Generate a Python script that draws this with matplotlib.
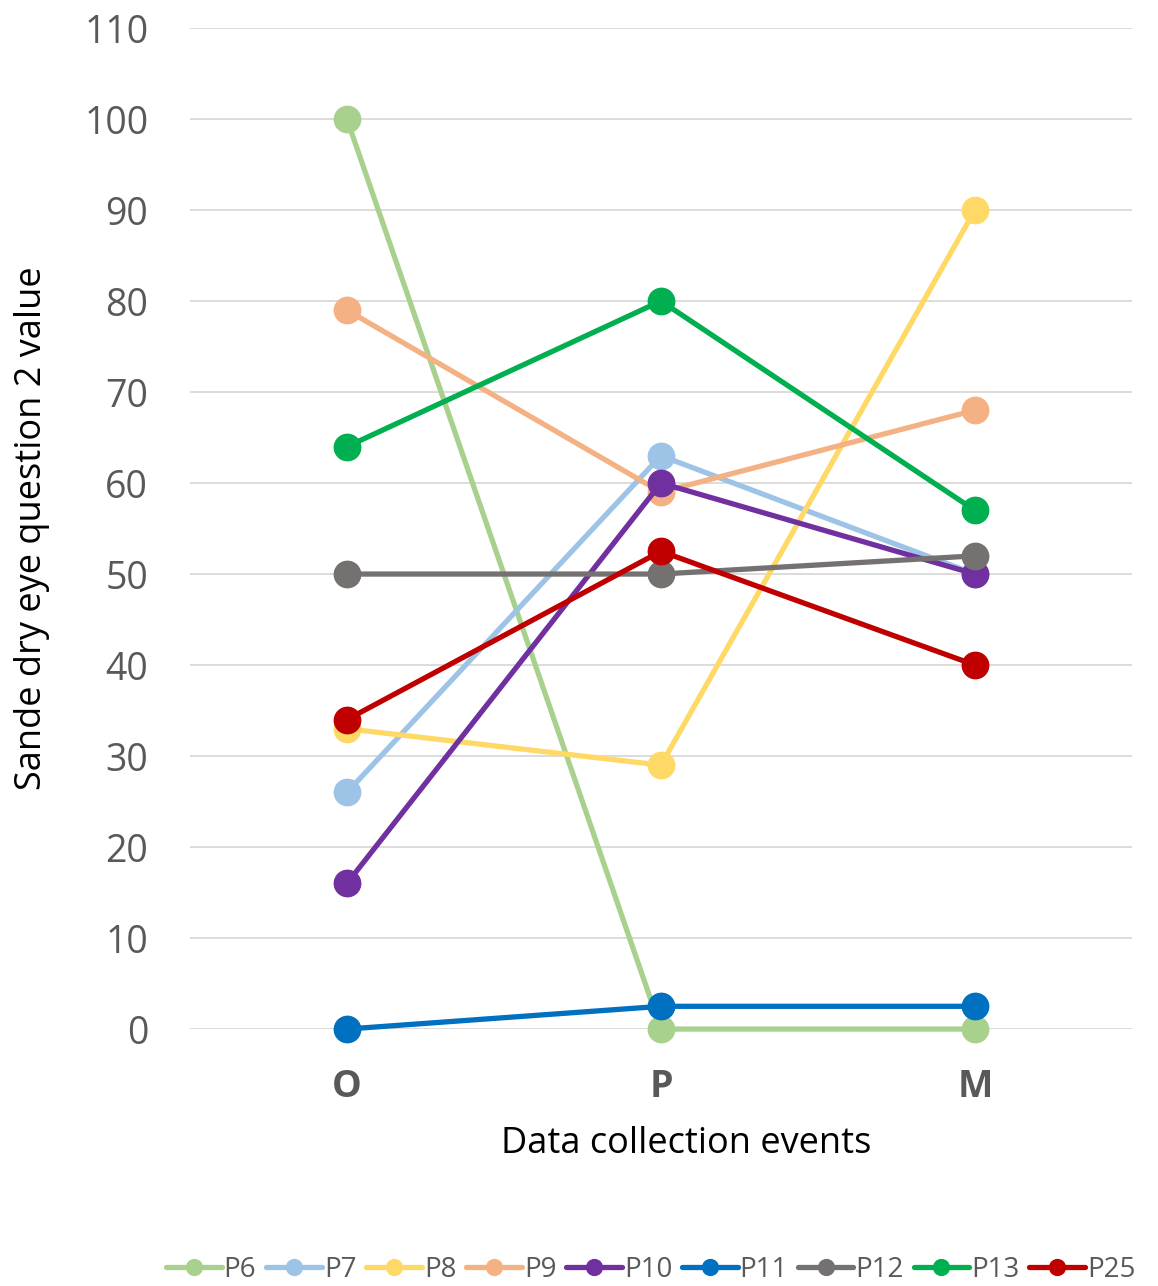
import matplotlib
matplotlib.use("Agg")
import matplotlib.pyplot as plt

# Survey scores per participant at each data collection event
events = ["O", "P", "M"]
participants = ["P6", "P7", "P8", "P9", "P10", "P11", "P12", "P13", "P25"]
p6 = [100, 0, 0]
p7 = [26, 63, 50]
p8 = [33, 29, 90]
p9 = [79, 59, 68]
p10 = [16, 60, 50]
p11 = [0, 2.5, 2.5]
p12 = [50, 50, 52]
p13 = [64, 80, 57]
p25 = [34, 52.5, 40]
series = [p6, p7, p8, p9, p10, p11, p12, p13, p25]
colors = ["#A9D18E", "#9DC3E6", "#FFD966", "#F4B183", "#7030A0",
          "#0070C0", "#767171", "#00B050", "#C00000"]
y_ticks = list(range(0, 111, 10))

plt.rcParams["font.family"] = ["Open Sans", "DejaVu Sans"]

fig = plt.figure(figsize=(11.58, 12.86), dpi=100)
ax = fig.add_axes([0.164, 0.1998, 0.8135, 0.7784])

x = list(range(len(events)))
for name, vals, col in zip(participants, series, colors):
    ax.plot(x, vals, color=col, lw=3.8, marker="o", markersize=19,
            label=name, clip_on=False, zorder=3, solid_capstyle="round")

ax.set_xlim(-0.5, 2.5)
ax.set_ylim(0, 110)
ax.set_yticks(y_ticks)
ax.set_yticklabels([str(t) for t in y_ticks], fontsize=27, color="#595959")
ax.set_xticks(x)
ax.set_xticklabels(events, fontsize=27, fontweight="bold", color="#595959")
ax.tick_params(axis="both", length=0)
ax.tick_params(axis="y", pad=30)
ax.tick_params(axis="x", pad=28)
ax.grid(axis="y", color="#D9D9D9", lw=1.3, zorder=0)
for s in ax.spines.values():
    s.set_visible(False)

ax.set_ylabel("Sande dry eye question 2 value", fontsize=26, color="black")
ax.yaxis.set_label_coords(-0.148, 0.5)
ax.set_xlabel("Data collection events", fontsize=26, color="black")
ax.xaxis.set_label_coords(0.527, -0.097)

leg = fig.legend(loc="center", bbox_to_anchor=(0.562, 0.0124), ncol=9, frameon=False,
                 handlelength=2.0, handletextpad=0.08, columnspacing=0.35,
                 markerscale=0.6, prop={"size": 20})
for t in leg.get_texts():
    t.set_color("#595959")

fig.savefig("out.png", dpi=100)
